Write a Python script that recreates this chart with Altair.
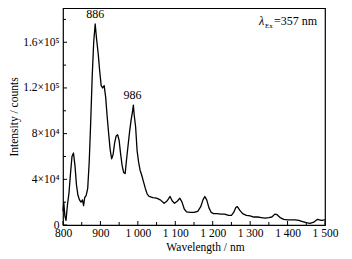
import altair as alt
import pandas as pd

wavelength = [800, 802, 805, 808, 812, 816, 820, 824, 828, 832, 836, 840, 844, 848, 852, 855,
              858, 862, 866, 870, 874, 878, 882, 886, 890, 894, 898, 902, 906, 910, 914, 918,
              922, 926, 930, 934, 938, 942, 946, 950, 954, 958, 962, 966, 970, 974, 978, 982,
              986, 988, 990, 994, 998, 1002, 1006, 1010, 1015, 1020, 1025, 1030, 1040, 1050,
              1060, 1070, 1078, 1086, 1092, 1098, 1106, 1112, 1118, 1124, 1130, 1140, 1150,
              1160, 1168, 1174, 1179, 1184, 1190, 1196, 1202, 1212, 1222, 1232, 1242, 1250,
              1256, 1262, 1266, 1272, 1280, 1290, 1300, 1310, 1320, 1330, 1340, 1350, 1358,
              1366, 1372, 1380, 1390, 1400, 1410, 1420, 1430, 1440, 1450, 1460, 1470, 1480,
              1490, 1500]
intensity = [12000, 20000, 8000, 4000, 18000, 28000, 45000, 60000, 63000, 52000, 35000, 26000,
             22000, 20000, 22000, 17000, 24000, 26000, 32000, 55000, 90000, 130000, 160000,
             176000, 162000, 150000, 135000, 122000, 120000, 122000, 112000, 95000, 80000,
             66000, 58000, 62000, 72000, 78000, 79000, 74000, 62000, 52000, 46000, 45000,
             58000, 70000, 82000, 92000, 100000, 105000, 97000, 86000, 65000, 55000, 48000,
             44000, 38000, 32000, 27000, 25000, 24000, 23500, 22000, 19000, 21000, 25000,
             21000, 19000, 21000, 23500, 20000, 14000, 11500, 11000, 11000, 12000, 16000,
             22000, 25000, 22000, 15000, 11000, 10000, 10000, 9500, 9500, 8500, 8500, 11000,
             15500, 16000, 13000, 10000, 8500, 8000, 7000, 7000, 6500, 6000, 6500, 7000, 9500,
             9000, 6500, 5000, 4500, 4500, 4500, 4000, 3000, 2000, 1500, 2500, 5000, 4000, 4500]

x_ticks = [800, 900, 1000, 1100, 1200, 1300, 1400, 1500]
x_minor = [850, 950, 1050, 1150, 1250, 1350, 1450]
y_ticks = [0, 40000, 80000, 120000, 160000]
y_minor = [20000, 60000, 100000, 140000, 180000]
peak_wl = [886, 986]
peak_int = [176000, 105000]
peak_labels = ["886", "986"]

FONT = "Liberation Serif"
W, H = 262, 217

df = pd.DataFrame({"wl": wavelength, "I": intensity})
xs = alt.Scale(domain=[800, 1500], nice=False)
ys = alt.Scale(domain=[0, 190000], nice=False)

x_label_expr = ("datum.value < 1000 ? format(datum.value, 'd') : "
                "floor(datum.value/1000) + ' ' + substring(format(datum.value, 'd'), 1, 4)")
y_label_expr = ("datum.value == 0 ? '0' : datum.value == 40000 ? '4×10⁴' : datum.value == 80000 ? '8×10⁴'"
                " : datum.value == 120000 ? '1.2×10⁵' : '1.6×10⁵'")

x_axis = alt.Axis(title="Wavelength / nm", values=x_ticks, labelExpr=x_label_expr,
                  ticks=False, domain=False, grid=False, labelFont=FONT, labelFontSize=11.5,
                  labelColor="black", titleFont=FONT, titleFontSize=11.5, titleFontWeight="normal",
                  titleColor="black", labelPadding=2, titlePadding=3, titleX=142,
                  labelFlush=False, labelOverlap=False, labelBound=False, labelSeparation=0)
y_axis = alt.Axis(title="Intensity / counts", values=y_ticks, labelExpr=y_label_expr,
                  ticks=False, domain=False, grid=False, labelFont=FONT, labelFontSize=11.5,
                  labelColor="black", titleFont=FONT, titleFontSize=11.5, titleFontWeight="normal",
                  titleColor="black", labelPadding=4, titlePadding=3,
                  labelOverlap=False, labelBound=False)

line = alt.Chart(df).mark_line(color="black", strokeWidth=1.3, strokeJoin="round").encode(
    x=alt.X("wl:Q", scale=xs, axis=x_axis),
    y=alt.Y("I:Q", scale=ys, axis=y_axis),
)

major_x = pd.DataFrame({"x": x_ticks})
minor_x = pd.DataFrame({"x": x_minor})
major_y = pd.DataFrame({"y": y_ticks})
minor_y = pd.DataFrame({"y": y_minor})

tx1 = alt.Chart(major_x).mark_rule(color="black", strokeWidth=1).encode(
    x=alt.X("x:Q", scale=xs, axis=x_axis), y=alt.value(H), y2=alt.value(H - 4))
tx2 = alt.Chart(minor_x).mark_rule(color="black", strokeWidth=1).encode(
    x=alt.X("x:Q", scale=xs, axis=x_axis), y=alt.value(H), y2=alt.value(H - 3))
ty1 = alt.Chart(major_y).mark_rule(color="black", strokeWidth=1).encode(
    y=alt.Y("y:Q", scale=ys, axis=y_axis), x=alt.value(0), x2=alt.value(4))
ty2 = alt.Chart(minor_y).mark_rule(color="black", strokeWidth=1).encode(
    y=alt.Y("y:Q", scale=ys, axis=y_axis), x=alt.value(0), x2=alt.value(3))

peaks = alt.Chart(pd.DataFrame({"wl": peak_wl, "I": peak_int, "t": peak_labels})).mark_text(
    font=FONT, fontSize=12, color="black", baseline="bottom", dy=-3).encode(
    x=alt.X("wl:Q", scale=xs, axis=x_axis), y=alt.Y("I:Q", scale=ys, axis=y_axis), text="t:N")

lam = alt.Chart(pd.DataFrame({"t": ["λ"]})).mark_text(
    font=FONT, fontSize=12, fontStyle="italic", color="black", align="left", baseline="alphabetic").encode(
    x=alt.value(196), y=alt.value(17), text="t:N")
sub = alt.Chart(pd.DataFrame({"t": ["Ex"]})).mark_text(
    font=FONT, fontSize=7, color="black", align="left", baseline="alphabetic").encode(
    x=alt.value(202), y=alt.value(20), text="t:N")
rest = alt.Chart(pd.DataFrame({"t": ["=357 nm"]})).mark_text(
    font=FONT, fontSize=12, color="black", align="left", baseline="alphabetic").encode(
    x=alt.value(211), y=alt.value(17), text="t:N")

chart = alt.layer(line, tx1, tx2, ty1, ty2, peaks, lam, sub, rest).properties(
    width=W, height=H,
    autosize=alt.AutoSizeParams(type="none"),
    padding={"left": 55, "top": 0, "right": 19, "bottom": 34},
    background="white",
).configure_view(stroke="black", strokeWidth=1.2).configure_axis(labelOverlap=False)

chart.save("out.html", embed_options={"renderer": "svg", "actions": False})
